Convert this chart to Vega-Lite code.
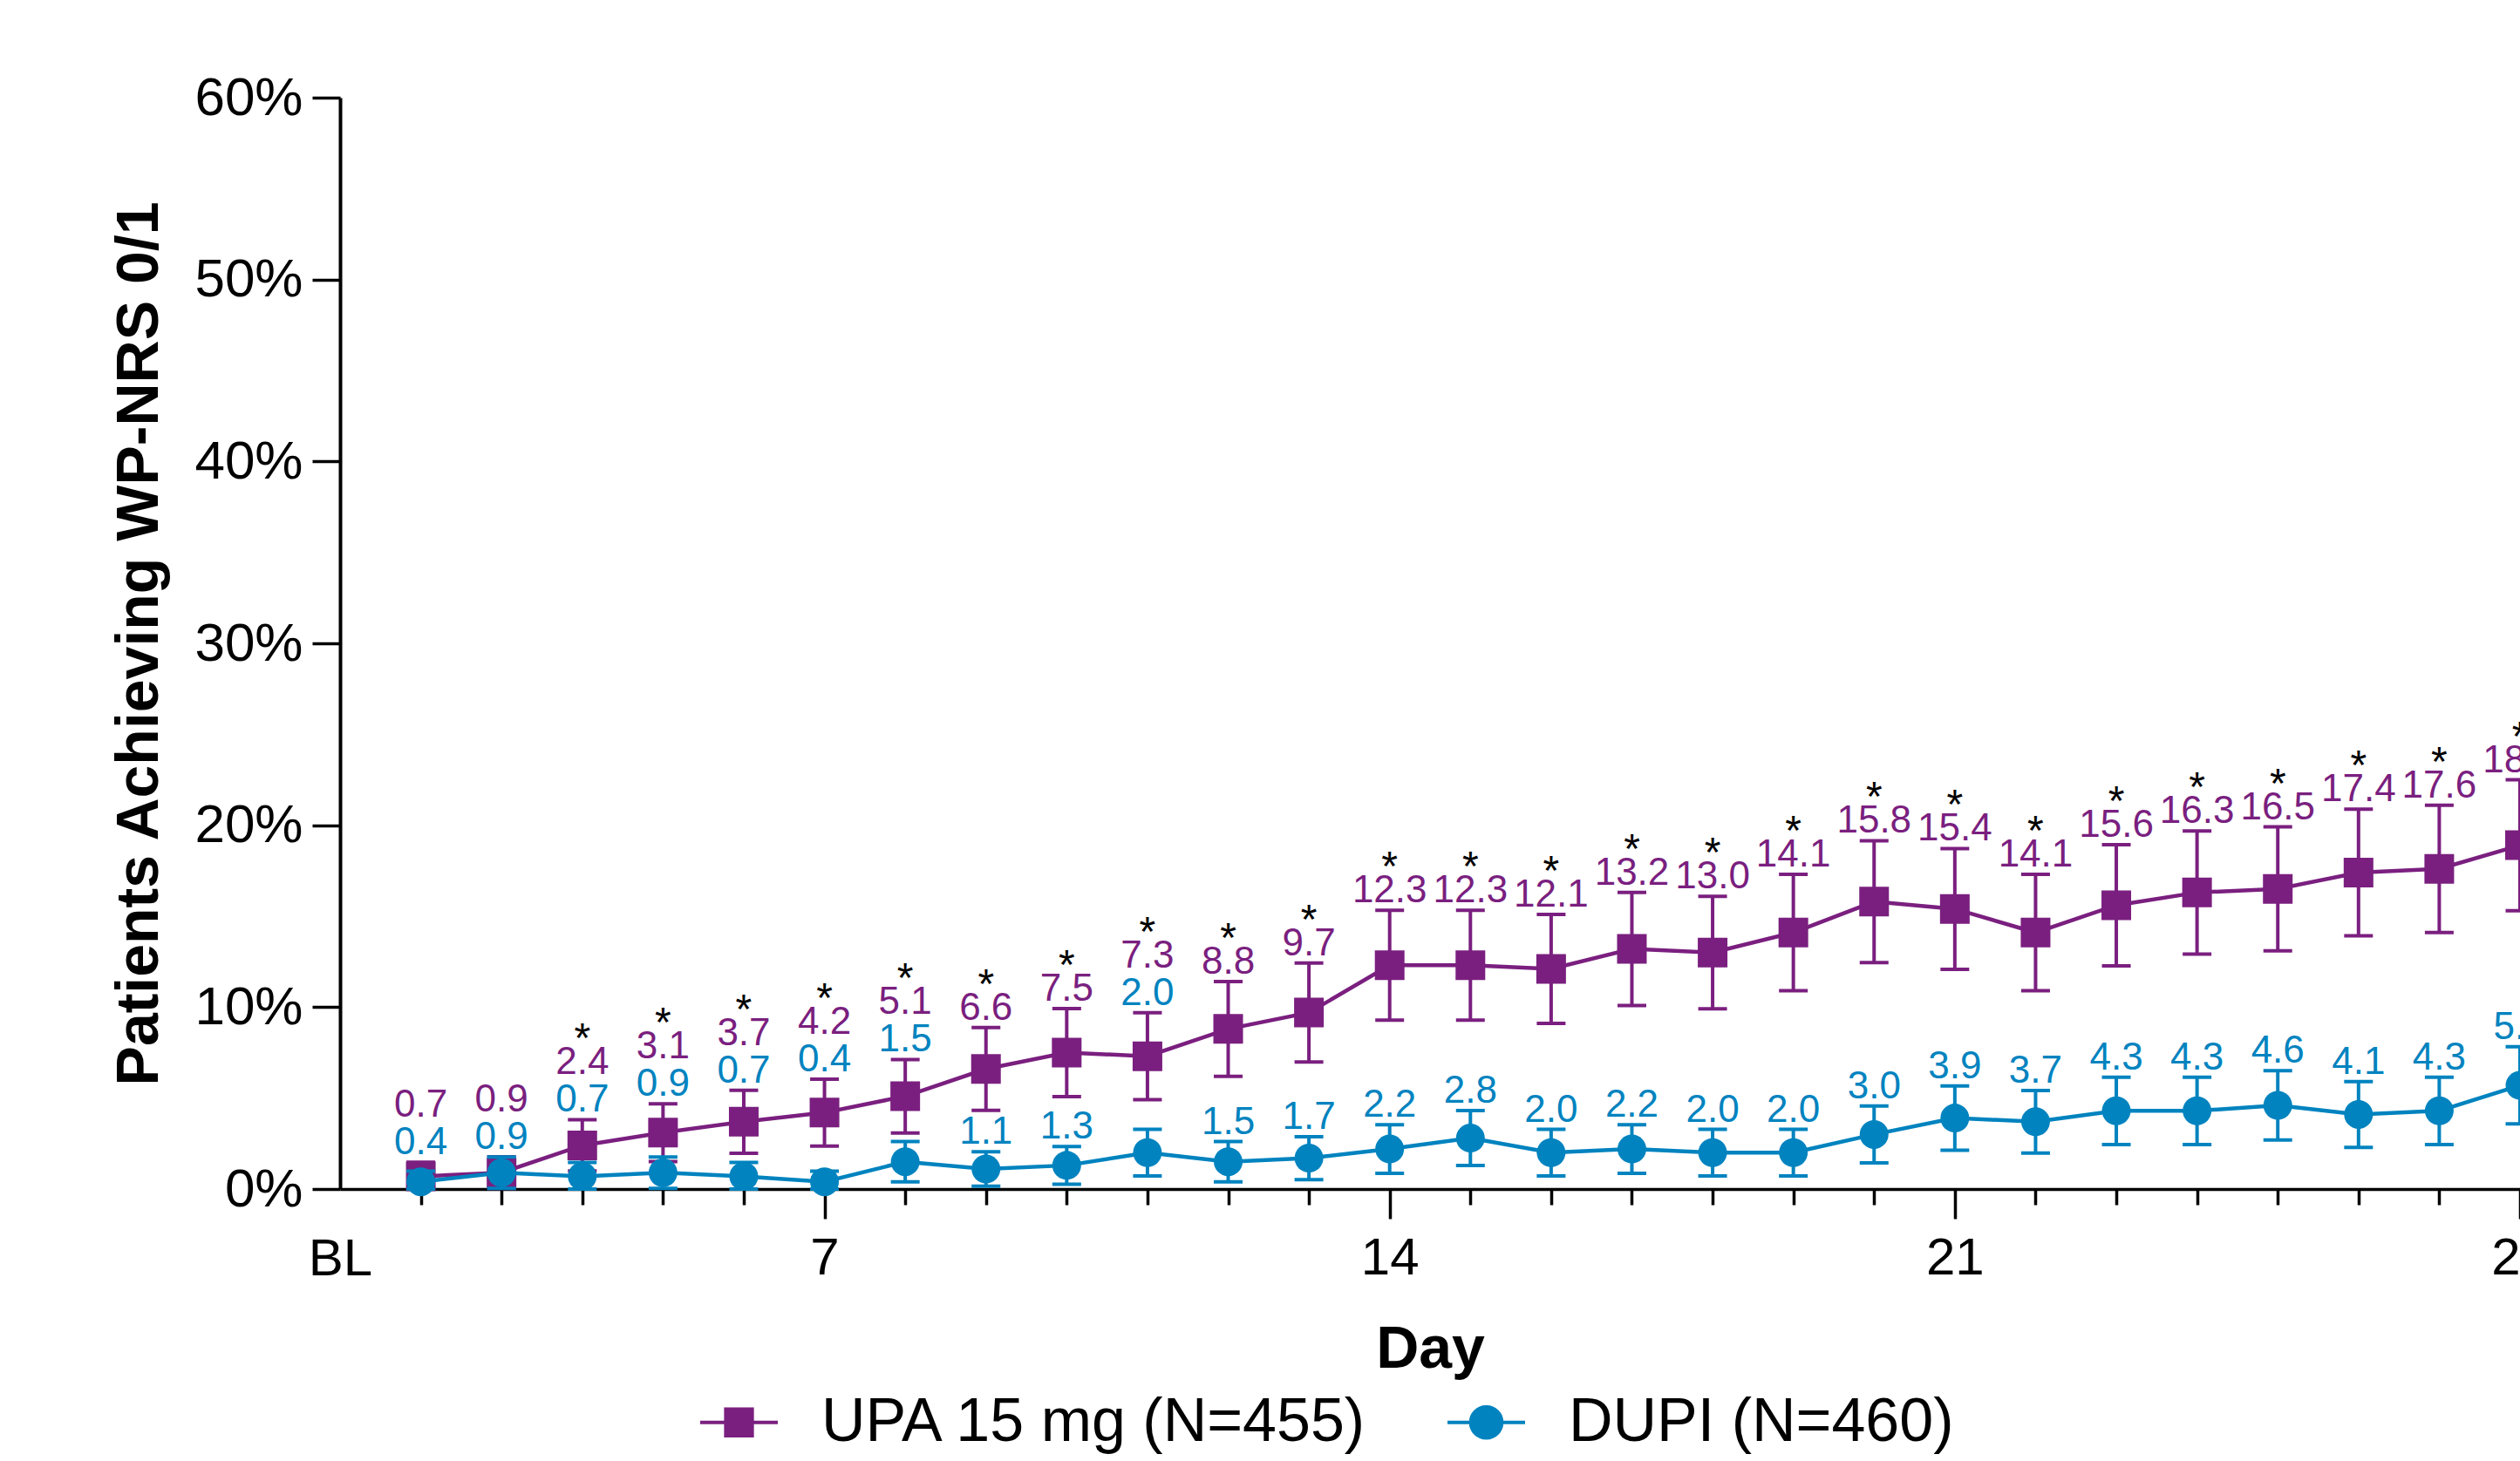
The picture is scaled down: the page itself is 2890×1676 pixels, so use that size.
{
  "$schema": "https://vega.github.io/schema/vega-lite/v6.json",
  "width": 2500,
  "height": 1252,
  "autosize": {"type": "none"},
  "padding": {"left": 390, "top": 112, "right": 0, "bottom": 312},
  "background": "white",
  "config": {
    "view": {"stroke": null},
    "font": "Liberation Sans",
    "axis": {"labelFont": "Liberation Sans", "titleFont": "Liberation Sans", "labelColor": "black", "titleColor": "black", "domainColor": "black", "tickColor": "black", "grid": false},
    "legend": {"labelFont": "Liberation Sans"}
  },
  "data": {
    "values": [
      {"day": 2, "upa": 0.7, "upa_lo": 0, "upa_hi": 1.47, "dupi": 0.4, "dupi_lo": 0, "dupi_hi": 0.98, "sig": false},
      {"day": 3, "upa": 0.9, "upa_lo": 0.03, "upa_hi": 1.77, "dupi": 0.9, "dupi_lo": 0.04, "dupi_hi": 1.76, "sig": false},
      {"day": 4, "upa": 2.4, "upa_lo": 0.99, "upa_hi": 3.81, "dupi": 0.7, "dupi_lo": 0, "dupi_hi": 1.46, "sig": true},
      {"day": 5, "upa": 3.1, "upa_lo": 1.51, "upa_hi": 4.69, "dupi": 0.9, "dupi_lo": 0.04, "dupi_hi": 1.76, "sig": true},
      {"day": 6, "upa": 3.7, "upa_lo": 1.97, "upa_hi": 5.43, "dupi": 0.7, "dupi_lo": 0, "dupi_hi": 1.46, "sig": true},
      {"day": 7, "upa": 4.2, "upa_lo": 2.36, "upa_hi": 6.04, "dupi": 0.4, "dupi_lo": 0, "dupi_hi": 0.98, "sig": true},
      {"day": 8, "upa": 5.1, "upa_lo": 3.08, "upa_hi": 7.12, "dupi": 1.5, "dupi_lo": 0.39, "dupi_hi": 2.61, "sig": true},
      {"day": 9, "upa": 6.6, "upa_lo": 4.32, "upa_hi": 8.88, "dupi": 1.1, "dupi_lo": 0.15, "dupi_hi": 2.05, "sig": true},
      {"day": 10, "upa": 7.5, "upa_lo": 5.08, "upa_hi": 9.92, "dupi": 1.3, "dupi_lo": 0.26, "dupi_hi": 2.34, "sig": true},
      {"day": 11, "upa": 7.3, "upa_lo": 4.91, "upa_hi": 9.69, "dupi": 2.0, "dupi_lo": 0.72, "dupi_hi": 3.28, "sig": true},
      {"day": 12, "upa": 8.8, "upa_lo": 6.2, "upa_hi": 11.4, "dupi": 1.5, "dupi_lo": 0.39, "dupi_hi": 2.61, "sig": true},
      {"day": 13, "upa": 9.7, "upa_lo": 6.98, "upa_hi": 12.42, "dupi": 1.7, "dupi_lo": 0.52, "dupi_hi": 2.88, "sig": true},
      {"day": 14, "upa": 12.3, "upa_lo": 9.28, "upa_hi": 15.32, "dupi": 2.2, "dupi_lo": 0.86, "dupi_hi": 3.54, "sig": true},
      {"day": 15, "upa": 12.3, "upa_lo": 9.28, "upa_hi": 15.32, "dupi": 2.8, "dupi_lo": 1.29, "dupi_hi": 4.31, "sig": true},
      {"day": 16, "upa": 12.1, "upa_lo": 9.1, "upa_hi": 15.1, "dupi": 2.0, "dupi_lo": 0.72, "dupi_hi": 3.28, "sig": true},
      {"day": 17, "upa": 13.2, "upa_lo": 10.09, "upa_hi": 16.31, "dupi": 2.2, "dupi_lo": 0.86, "dupi_hi": 3.54, "sig": true},
      {"day": 18, "upa": 13.0, "upa_lo": 9.91, "upa_hi": 16.09, "dupi": 2.0, "dupi_lo": 0.72, "dupi_hi": 3.28, "sig": true},
      {"day": 19, "upa": 14.1, "upa_lo": 10.9, "upa_hi": 17.3, "dupi": 2.0, "dupi_lo": 0.72, "dupi_hi": 3.28, "sig": true},
      {"day": 20, "upa": 15.8, "upa_lo": 12.45, "upa_hi": 19.15, "dupi": 3.0, "dupi_lo": 1.44, "dupi_hi": 4.56, "sig": true},
      {"day": 21, "upa": 15.4, "upa_lo": 12.08, "upa_hi": 18.72, "dupi": 3.9, "dupi_lo": 2.13, "dupi_hi": 5.67, "sig": true},
      {"day": 22, "upa": 14.1, "upa_lo": 10.9, "upa_hi": 17.3, "dupi": 3.7, "dupi_lo": 1.98, "dupi_hi": 5.42, "sig": true},
      {"day": 23, "upa": 15.6, "upa_lo": 12.27, "upa_hi": 18.93, "dupi": 4.3, "dupi_lo": 2.45, "dupi_hi": 6.15, "sig": true},
      {"day": 24, "upa": 16.3, "upa_lo": 12.91, "upa_hi": 19.69, "dupi": 4.3, "dupi_lo": 2.45, "dupi_hi": 6.15, "sig": true},
      {"day": 25, "upa": 16.5, "upa_lo": 13.09, "upa_hi": 19.91, "dupi": 4.6, "dupi_lo": 2.69, "dupi_hi": 6.51, "sig": true},
      {"day": 26, "upa": 17.4, "upa_lo": 13.92, "upa_hi": 20.88, "dupi": 4.1, "dupi_lo": 2.29, "dupi_hi": 5.91, "sig": true},
      {"day": 27, "upa": 17.6, "upa_lo": 14.1, "upa_hi": 21.1, "dupi": 4.3, "dupi_lo": 2.45, "dupi_hi": 6.15, "sig": true},
      {"day": 28, "upa": 18.9, "upa_lo": 15.3, "upa_hi": 22.5, "dupi": 5.7, "dupi_lo": 3.58, "dupi_hi": 7.82, "sig": true}
    ]
  },
  "transform": [
    {"calculate": "datum.upa_lo - datum.dupi_hi < 2", "as": "stk"},
    {"calculate": "datum.stk ? max(datum.upa_hi, datum.dupi_hi) : datum.dupi_hi", "as": "by"}
  ],
  "encoding": {
    "x": {
      "field": "day",
      "type": "quantitative",
      "title": "Day",
      "scale": {"domain": [1, 28], "nice": false, "zero": false},
      "axis": {
        "title": "Day",
        "values": [1, 2, 3, 4, 5, 6, 7, 8, 9, 10, 11, 12, 13, 14, 15, 16, 17, 18, 19, 20, 21, 22, 23, 24, 25, 26, 27, 28],
        "labelExpr": "datum.value == 1 ? 'BL' : (datum.value % 7 == 0 ? datum.label : '')",
        "labelOverlap": false,
        "labelFlush": false,
        "labelBound": false,
        "labelFontSize": 60,
        "labelPadding": {"condition": {"test": "datum.value === 1", "value": 33}, "value": 16},
        "tickSize": {"condition": {"test": "datum.value % 7 === 0", "value": 34}, "value": 18},
        "tickColor": {"condition": {"test": "datum.value === 1", "value": "transparent"}, "value": "black"},
        "tickWidth": 3.5,
        "domainWidth": 3.5,
        "titleFontSize": 68,
        "titleFontWeight": "bold",
        "titlePadding": 40
      }
    }
  },
  "layer": [
    {
      "mark": {"type": "rule", "color": "#7A1F7F", "strokeWidth": 4},
      "encoding": {
        "y": {
          "field": "upa_lo",
          "type": "quantitative",
          "title": "Patients Achieving WP-NRS 0/1",
          "scale": {"domain": [0, 60], "nice": false},
          "axis": {
            "title": "Patients Achieving WP-NRS 0/1",
            "values": [0, 10, 20, 30, 40, 50, 60],
            "labelExpr": "datum.value + '%'",
            "labelFontSize": 62,
            "labelPadding": 11,
            "tickSize": 32,
            "tickWidth": 3.5,
            "domainWidth": 4,
            "titleFontSize": 68,
            "titleFontWeight": "bold",
            "titlePadding": 28
          }
        },
        "y2": {"field": "upa_hi", "title": "Patients Achieving WP-NRS 0/1"}
      }
    },
    {
      "mark": {"type": "tick", "orient": "horizontal", "color": "#7A1F7F", "size": 33, "thickness": 4, "opacity": 1},
      "encoding": {"y": {"field": "upa_lo", "type": "quantitative", "title": "Patients Achieving WP-NRS 0/1"}}
    },
    {
      "mark": {"type": "tick", "orient": "horizontal", "color": "#7A1F7F", "size": 33, "thickness": 4, "opacity": 1},
      "encoding": {"y": {"field": "upa_hi", "type": "quantitative", "title": "Patients Achieving WP-NRS 0/1"}}
    },
    {
      "mark": {"type": "line", "color": "#7A1F7F", "strokeWidth": 4.5},
      "encoding": {"y": {"field": "upa", "type": "quantitative", "title": "Patients Achieving WP-NRS 0/1"}}
    },
    {
      "mark": {"type": "point", "shape": "square", "filled": true, "size": 1156, "opacity": 1},
      "encoding": {
        "y": {"field": "upa", "type": "quantitative", "title": "Patients Achieving WP-NRS 0/1"},
        "color": {
          "datum": "UPA 15 mg (N=455)",
          "type": "nominal",
          "scale": {"domain": ["UPA 15 mg (N=455)", "DUPI (N=460)"], "range": ["#7A1F7F", "#0083BF"]},
          "legend": {
            "orient": "none",
            "legendX": 411,
            "legendY": 1473,
            "direction": "horizontal",
            "title": null,
            "padding": 0,
            "labelFontSize": 70,
            "labelColor": "black",
            "labelLimit": 0,
            "labelOffset": 48,
            "columnPadding": 82,
            "symbolSize": 7921,
            "symbolStrokeWidth": 4,
            "encoding": {
              "symbols": {
                "shape": {"value": {"expr": "datum.value === 'UPA 15 mg (N=455)' ? 'M-1,0H1M-0.34,-0.34H0.34V0.34H-0.34Z' : 'M-1,0H1M0.4,0A0.4,0.4,0,1,1,-0.4,0A0.4,0.4,0,1,1,0.4,0Z'"}},
                "fill": {"value": {"expr": "scale('color', datum.value)"}},
                "stroke": {"value": {"expr": "scale('color', datum.value)"}},
                "strokeWidth": {"value": 4},
                "opacity": {"value": 1},
                "fillOpacity": {"value": 1}
              }
            }
          }
        }
      }
    },
    {
      "mark": {"type": "rule", "color": "#0083BF", "strokeWidth": 4},
      "encoding": {
        "y": {"field": "dupi_lo", "type": "quantitative", "title": "Patients Achieving WP-NRS 0/1"},
        "y2": {"field": "dupi_hi", "title": "Patients Achieving WP-NRS 0/1"}
      }
    },
    {
      "mark": {"type": "tick", "orient": "horizontal", "color": "#0083BF", "size": 33, "thickness": 4, "opacity": 1},
      "encoding": {"y": {"field": "dupi_lo", "type": "quantitative", "title": "Patients Achieving WP-NRS 0/1"}}
    },
    {
      "mark": {"type": "tick", "orient": "horizontal", "color": "#0083BF", "size": 33, "thickness": 4, "opacity": 1},
      "encoding": {"y": {"field": "dupi_hi", "type": "quantitative", "title": "Patients Achieving WP-NRS 0/1"}}
    },
    {
      "mark": {"type": "line", "color": "#0083BF", "strokeWidth": 4.5},
      "encoding": {"y": {"field": "dupi", "type": "quantitative", "title": "Patients Achieving WP-NRS 0/1"}}
    },
    {
      "mark": {"type": "point", "shape": "circle", "filled": true, "size": 1089, "opacity": 1},
      "encoding": {
        "y": {"field": "dupi", "type": "quantitative", "title": "Patients Achieving WP-NRS 0/1"},
        "color": {"datum": "DUPI (N=460)", "type": "nominal"}
      }
    },
    {
      "mark": {"type": "text", "color": "#0083BF", "fontSize": 44, "font": "Liberation Sans", "align": "center", "baseline": "alphabetic", "dy": -9},
      "encoding": {
        "y": {"field": "by", "type": "quantitative", "title": "Patients Achieving WP-NRS 0/1"},
        "text": {"field": "dupi", "type": "quantitative", "format": ".1f"}
      }
    },
    {
      "transform": [{"filter": "!datum.stk"}],
      "mark": {"type": "text", "color": "#7A1F7F", "fontSize": 44, "font": "Liberation Sans", "align": "center", "baseline": "alphabetic", "dy": -9},
      "encoding": {
        "y": {"field": "upa_hi", "type": "quantitative", "title": "Patients Achieving WP-NRS 0/1"},
        "text": {"field": "upa", "type": "quantitative", "format": ".1f"}
      }
    },
    {
      "transform": [{"filter": "datum.stk"}],
      "mark": {"type": "text", "color": "#7A1F7F", "fontSize": 44, "font": "Liberation Sans", "align": "center", "baseline": "alphabetic", "dy": -52},
      "encoding": {
        "y": {"field": "by", "type": "quantitative", "title": "Patients Achieving WP-NRS 0/1"},
        "text": {"field": "upa", "type": "quantitative", "format": ".1f"}
      }
    },
    {
      "transform": [{"filter": "datum.sig && !datum.stk"}],
      "mark": {"type": "text", "color": "black", "fontSize": 48, "font": "Liberation Sans", "align": "center", "baseline": "alphabetic", "dy": -34, "text": "*"},
      "encoding": {
        "y": {"field": "upa_hi", "type": "quantitative", "title": "Patients Achieving WP-NRS 0/1"}
      }
    },
    {
      "transform": [{"filter": "datum.sig && datum.stk"}],
      "mark": {"type": "text", "color": "black", "fontSize": 48, "font": "Liberation Sans", "align": "center", "baseline": "alphabetic", "dy": -77, "text": "*"},
      "encoding": {
        "y": {"field": "by", "type": "quantitative", "title": "Patients Achieving WP-NRS 0/1"}
      }
    }
  ]
}
